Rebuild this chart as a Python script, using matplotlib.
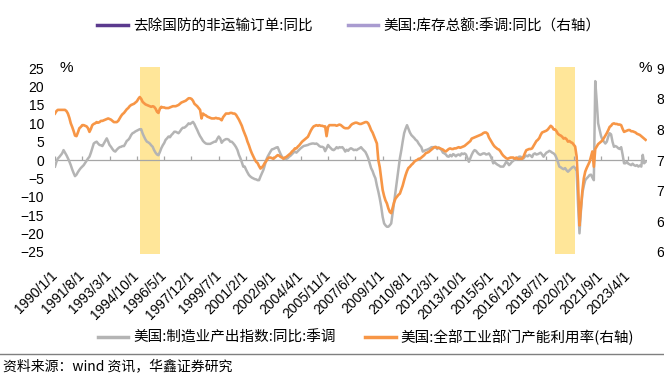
import matplotlib
matplotlib.use("Agg")
import matplotlib.pyplot as plt
import pandas as pd
from matplotlib.lines import Line2D

plt.rcParams["font.family"] = ["Liberation Sans", "Noto Sans CJK SC"]
plt.rcParams["axes.unicode_minus"] = True

# monthly data, 1990-01 .. 2024-04
start = "1990-01-01"

# manufacturing output yoy (%), left axis
mfg_yoy = [
    -1.8, -0.5, 0.4, 0.8, 1.3, 1.8, 2.7, 2.0, 1.3, 0.5, -0.4, -1.4,
    -2.6, -3.6, -4.4, -4.0, -3.3, -2.7, -2.2, -1.8, -1.4, -0.8, -0.2, 0.4,
    0.9, 2.0, 3.2, 4.5, 4.8, 5.0, 4.5, 4.1, 4.0, 3.8, 4.5, 5.2,
    5.9, 5.0, 4.1, 3.6, 3.0, 2.5, 2.3, 2.8, 3.2, 3.5, 3.6, 3.8,
    3.8, 4.5, 5.2, 5.5, 6.0, 6.8, 7.3, 7.5, 7.8, 8.0, 8.2, 8.4,
    8.4, 7.2, 6.4, 5.6, 5.0, 4.8, 4.5, 4.0, 3.6, 2.7, 2.0, 1.5,
    1.3, 2.2, 3.2, 4.0, 4.6, 5.5, 5.9, 6.4, 6.2, 6.8, 7.2, 7.7,
    7.7, 7.5, 7.3, 7.8, 8.4, 8.8, 8.8, 9.1, 9.5, 10.0, 9.8, 10.1,
    10.4, 9.8, 9.0, 8.2, 7.3, 6.5, 5.9, 5.2, 4.8, 4.5, 4.4, 4.4,
    4.4, 4.6, 4.8, 5.0, 5.0, 5.8, 6.4, 5.9, 4.7, 5.2, 5.5, 5.7,
    5.7, 5.5, 5.0, 5.0, 4.6, 4.1, 3.5, 2.7, 1.4, 0.5, -0.6, -1.8,
    -1.8, -2.7, -3.4, -4.1, -4.5, -4.8, -5.0, -5.2, -5.3, -5.5, -5.5, -4.5,
    -3.6, -2.7, -1.5, 0.0, 0.9, 1.6, 2.3, 2.9, 3.0, 3.2, 3.4, 3.5,
    2.5, 1.6, 0.9, 0.5, 0.2, 0.3, 0.5, 0.9, 1.2, 1.6, 2.0, 2.3,
    2.0, 2.4, 2.8, 3.2, 3.5, 3.8, 3.9, 4.0, 4.1, 4.3, 4.4, 4.5,
    4.5, 4.4, 4.5, 4.2, 3.8, 3.6, 3.6, 3.4, 2.4, 3.2, 4.1, 3.6,
    3.2, 2.8, 2.7, 3.0, 3.5, 3.2, 3.5, 3.4, 3.5, 3.0, 2.3, 2.8,
    2.5, 3.0, 3.2, 3.0, 2.7, 2.8, 2.7, 3.0, 3.2, 3.5, 3.0, 2.6,
    2.2, 1.4, 0.5, -0.9, -2.2, -3.0, -4.1, -5.0, -7.0, -8.6, -10.5, -12.7,
    -15.5, -17.3, -17.8, -18.2, -18.2, -17.8, -17.3, -14.5, -11.5, -8.5, -5.5, -2.5,
    0.5, 2.7, 5.0, 7.3, 8.5, 9.5, 8.5, 7.5, 6.8, 6.4, 6.0, 5.5,
    5.2, 4.5, 4.0, 3.5, 2.3, 2.5, 2.7, 2.8, 3.0, 3.2, 3.5, 3.5,
    3.5, 3.6, 3.0, 3.4, 3.1, 2.7, 2.0, 1.8, 1.5, 1.0, 0.9, 1.4,
    1.0, 1.6, 1.4, 1.0, 1.4, 1.5, 1.2, 1.8, 1.6, 1.8, 1.5, 0.5,
    -0.5, 0.5, 1.4, 2.2, 2.7, 2.5, 2.0, 1.6, 1.4, 1.6, 1.8, 1.8,
    1.5, 1.6, 1.8, 1.2, 0.3, -0.9, -0.6, -1.0, -1.3, -1.5, -1.8, -1.8,
    -1.8, -1.2, -0.5, -0.8, -1.4, -1.0, -0.5, -0.2, 0.4, 0.2, 0.6, 0.9,
    0.9, 0.6, 0.4, 0.9, 1.2, 1.0, 1.4, 1.2, 0.8, 1.6, 1.8, 1.5,
    1.6, 1.8, 2.0, 1.5, 0.9, 1.5, 2.0, 2.2, 2.5, 2.3, 2.0, 1.8,
    1.4, 0.5, -0.5, -1.8, -2.0, -2.3, -2.5, -2.2, -2.8, -3.2, -2.8, -2.4,
    -2.0, -1.8, -2.2, -3.0, -12.0, -20.0, -14.0, -9.0, -7.0, -5.5, -5.0, -4.6,
    -4.1, -4.0, -4.8, -5.5, 21.5, 16.0, 10.0, 8.2, 6.5, 5.5, 5.0, 4.5,
    5.0, 6.4, 7.3, 7.0, 5.0, 3.6, 3.8, 3.6, 3.2, 3.0, 3.5, 1.5,
    -0.9, -0.9, -0.5, -1.0, -1.2, -1.4, -1.0, -1.4, -1.6, -1.4, -1.8, -1.5,
    -1.8, 1.4, -0.9, -0.5,
]

# total industry capacity utilization (%), right axis
cap_util = [
    82.6, 83.0, 83.2, 83.2, 83.2, 83.2, 83.2, 83.2, 83.0, 82.6, 81.9, 81.0,
    80.4, 79.7, 79.0, 78.9, 79.5, 80.2, 80.4, 80.7, 80.7, 80.6, 80.5, 80.2,
    79.6, 80.1, 80.7, 80.9, 81.0, 81.2, 81.1, 81.2, 81.4, 81.4, 81.5, 81.6,
    81.7, 81.8, 81.7, 81.6, 81.4, 81.2, 81.2, 81.2, 81.4, 81.8, 82.2, 82.5,
    82.7, 83.0, 83.3, 83.5, 83.8, 84.0, 84.1, 84.2, 84.4, 84.6, 85.0, 85.3,
    85.0, 84.5, 84.3, 84.1, 84.0, 83.9, 83.8, 83.7, 83.8, 83.7, 83.4, 82.9,
    82.7, 83.4, 83.7, 83.6, 83.6, 83.5, 83.5, 83.5, 83.6, 83.7, 83.8, 83.8,
    83.8, 83.9, 84.0, 84.2, 84.4, 84.5, 84.6, 84.7, 84.9, 85.1, 85.1, 85.0,
    84.7, 84.2, 84.0, 83.8, 83.5, 83.2, 81.8, 82.6, 82.4, 82.3, 82.1, 82.0,
    81.9, 81.8, 81.8, 81.8, 81.9, 81.8, 81.8, 81.7, 81.5, 82.0, 82.3, 82.6,
    82.6, 82.6, 82.7, 82.7, 82.6, 82.6, 82.4, 82.0, 81.6, 81.1, 80.6, 79.9,
    79.3, 78.7, 78.0, 77.4, 76.7, 76.1, 75.6, 75.1, 74.7, 74.5, 74.0, 73.6,
    73.8, 74.1, 74.5, 74.8, 75.2, 75.4, 75.4, 75.3, 75.2, 75.4, 75.6, 75.8,
    75.7, 75.5, 75.4, 75.2, 75.4, 75.5, 75.7, 75.9, 76.1, 76.4, 76.6, 76.9,
    76.9, 77.2, 77.4, 77.7, 78.0, 78.2, 78.4, 78.6, 78.8, 79.3, 79.8, 80.2,
    80.5, 80.6, 80.7, 80.6, 80.7, 80.6, 80.6, 80.5, 80.5, 78.9, 80.4, 80.7,
    80.7, 80.7, 80.7, 80.7, 80.6, 80.7, 80.8, 80.7, 80.5, 80.3, 80.2, 80.2,
    80.2, 80.4, 80.7, 80.9, 81.0, 81.1, 81.1, 81.0, 80.9, 80.9, 81.0, 81.1,
    81.2, 81.2, 81.0, 80.5, 79.9, 79.5, 78.9, 78.3, 77.7, 75.0, 73.8, 72.0,
    70.1, 69.1, 68.4, 67.9, 67.1, 66.5, 66.3, 67.2, 68.1, 68.7, 69.0, 69.3,
    69.5, 70.2, 70.8, 71.7, 72.5, 73.2, 73.7, 73.9, 74.2, 74.4, 74.7, 74.9,
    75.0, 75.2, 75.2, 75.4, 75.6, 75.8, 76.1, 76.2, 76.3, 76.5, 76.7, 76.9,
    77.1, 77.1, 77.0, 77.0, 76.9, 76.8, 76.7, 76.5, 76.4, 76.6, 76.8, 76.9,
    76.8, 76.8, 76.9, 76.9, 77.0, 77.1, 77.0, 77.1, 77.2, 77.3, 77.5, 77.7,
    77.9, 78.1, 78.5, 78.6, 78.7, 78.8, 78.9, 79.0, 79.1, 79.2, 79.4, 79.5,
    79.5, 79.3, 78.7, 78.3, 77.9, 77.5, 77.2, 77.0, 76.8, 76.7, 76.4, 76.0,
    75.7, 75.5, 75.3, 75.2, 75.3, 75.4, 75.4, 75.4, 75.2, 75.4, 75.2, 75.2,
    75.2, 75.2, 75.5, 76.1, 76.6, 76.7, 76.8, 76.8, 76.9, 77.3, 77.7, 78.1,
    78.3, 78.6, 79.1, 79.5, 79.6, 79.7, 79.8, 80.0, 80.3, 80.6, 80.4, 80.0,
    80.0, 79.7, 79.3, 79.1, 79.0, 78.8, 78.5, 78.6, 78.4, 78.0, 78.1, 77.9,
    77.8, 77.5, 77.2, 75.6, 71.4, 64.3, 67.2, 69.9, 72.0, 73.1, 73.7, 74.2,
    74.7, 75.6, 76.4, 73.9, 76.8, 77.2, 77.6, 77.8, 78.0, 78.2, 78.6, 79.0,
    79.4, 79.9, 80.4, 80.6, 80.9, 81.0, 80.9, 80.9, 80.8, 80.8, 80.7, 80.1,
    79.6, 79.7, 79.8, 79.9, 79.9, 79.7, 79.7, 79.6, 79.5, 79.3, 79.2, 79.1,
    78.9, 78.7, 78.5, 78.3,
]

# shaded periods
band_start = ["1994-12-01", "2019-01-01"]
band_end = ["1996-02-01", "2020-03-01"]

labels_top = ["去除国防的非运输订单:同比", "美国:库存总额:季调:同比（右轴）"]
labels_bottom = ["美国:制造业产出指数:同比:季调", "美国:全部工业部门产能利用率(右轴)"]
left_ticks = [25, 20, 15, 10, 5, 0, -5, -10, -15, -20, -25]
right_ticks = [60, 65, 70, 75, 80, 85, 90]

dates = pd.date_range(start, periods=len(mfg_yoy), freq="MS")
xticks = pd.date_range(start, periods=22, freq="19MS")

W, H = 664, 377
fig = plt.figure(figsize=(W / 100, H / 100), dpi=100)
ax = fig.add_axes([55 / W, 1 - 254 / H, (647 - 55) / W, (254 - 66.7) / H])
ax2 = ax.twinx()

for s, e in zip(band_start, band_end):
    ax.axvspan(pd.Timestamp(s), pd.Timestamp(e), color="#FFE699", lw=0, zorder=0)

ax.axhline(0, color="#A6A6A6", lw=0.9, zorder=1)
ax.vlines(xticks, 0, 1.0, color="#A6A6A6", lw=0.9, zorder=1)
ax.plot(dates, mfg_yoy, color="#B4B4B4", lw=1.8, zorder=2)
ax2.plot(dates, cap_util, color="#F79646", lw=1.9, zorder=3)

ax.set_ylim(-25.63, 25.44)
ax2.set_ylim(75 + 0.6 * -25.63, 75 + 0.6 * 25.44)
ax.set_xlim(pd.Timestamp("1990-01-01"), pd.Timestamp("2024-05-01"))

for a in (ax, ax2):
    for sp in a.spines.values():
        sp.set_visible(False)

ax.set_yticks(left_ticks)
ax.tick_params(axis="y", length=0, pad=8, labelsize=10)
ax2.set_yticks(right_ticks)
ax2.tick_params(axis="y", length=0, pad=6.5, labelsize=10)

ax.set_xticks(xticks)
ax.set_xticklabels([f"{d.year}/{d.month}/{d.day}" for d in xticks])
ax.tick_params(axis="x", length=0, pad=14, labelsize=10)
for t in ax.get_xticklabels():
    t.set_rotation(45)
    t.set_ha("right")
    t.set_va("center")
    t.set_rotation_mode("anchor")

fig.text(66 / W, 1 - 68 / H, "%", ha="center", va="center", fontsize=11)
fig.text(645 / W, 1 - 68 / H, "%", ha="center", va="center", fontsize=11)

cjk = ["Noto Sans CJK SC", "DejaVu Sans"]
h_top = [Line2D([], [], color="#5B3A8E", lw=2.5), Line2D([], [], color="#A99BD0", lw=2.5)]
fig.legend(h_top, labels_top, loc="center", bbox_to_anchor=(349 / W, 1 - 26 / H),
           ncol=2, frameon=False, handlelength=2.1, handletextpad=0.35,
           columnspacing=2.4, prop={"family": cjk, "size": 10.5})

h_bot = [Line2D([], [], color="#B4B4B4", lw=2.5), Line2D([], [], color="#F79646", lw=2.5)]
fig.legend(h_bot, labels_bottom, loc="center", bbox_to_anchor=(366 / W, 1 - 337 / H),
           ncol=2, frameon=False, handlelength=2.1, handletextpad=0.35,
           columnspacing=2.0, prop={"family": cjk, "size": 10.5})

fig.add_artist(Line2D([0, 1], [1 - 354 / H] * 2, transform=fig.transFigure,
                      color="#7F7F7F", lw=1))
fig.text(3 / W, 1 - 366 / H, "资料来源：wind 资讯，华鑫证券研究", ha="left", va="center",
         fontsize=10, family=cjk)

fig.savefig("out.png", dpi=100)
